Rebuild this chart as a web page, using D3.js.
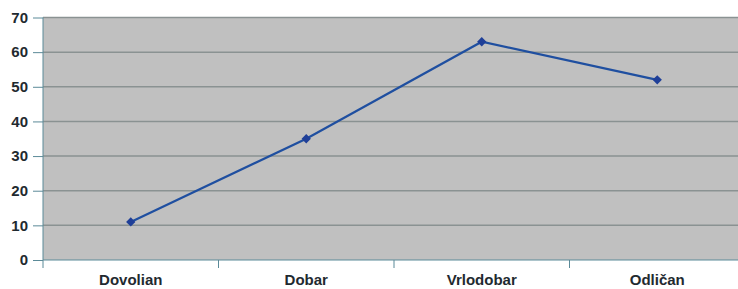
<!DOCTYPE html>
<html lang="hr">
    <head>
        <meta charset="utf-8">
        <title>Line</title>
        <script src="https://d3js.org/d3.v7.min.js"></script>
        <style type="text/css">
            body { margin: 0; background: #fff; }
            .axis path, .axis line { stroke: #5b8a98; }
            .axis text {
                font-family: "Liberation Sans", Arial, sans-serif;
                font-size: 15px;
                font-weight: bold;
                fill: #1f2a30;
            }
            .grid line { stroke: #8a9292; stroke-width: 1.5px; }
            .line { fill: none; stroke: #1f4fa0; stroke-width: 2.2px; }
        </style>
    </head>
    <body>
        <script type="text/javascript">
            const categories = ["Dovolian", "Dobar", "Vrlodobar", "Odličan"];
            const values = [11, 35, 63, 52];
            const yTicks = [0, 10, 20, 30, 40, 50, 60, 70];

            const w = 738, h = 289;
            const plotLeft = 43, plotRight = 745, plotTop = 17.5, plotBottom = 260;

            const svg = d3.select("body").append("svg").attr("width", w).attr("height", h);

            const xScale = d3.scaleBand().domain(categories).range([plotLeft, plotRight]);
            const yScale = d3.scaleLinear().domain([0, 70]).range([plotBottom, plotTop]);

            svg.append("rect")
                .attr("x", plotLeft).attr("y", plotTop)
                .attr("width", plotRight - plotLeft).attr("height", plotBottom - plotTop)
                .attr("fill", "#c0c0c0");

            // gridlines
            svg.append("g").attr("class", "grid")
                .selectAll("line").data(yTicks.filter(d => d > 0)).enter().append("line")
                .attr("x1", plotLeft).attr("x2", plotRight)
                .attr("y1", d => yScale(d)).attr("y2", d => yScale(d));

            const leftAxis = d3.axisLeft(yScale).tickValues(yTicks).tickSize(10).tickPadding(5);
            svg.append("g").attr("class", "axis")
                .attr("transform", "translate(" + plotLeft + ",0)")
                .call(leftAxis)
                .call(g => g.select(".domain").attr("d", `M0,${plotTop}V${plotBottom + 8}`));

            const bottomAxis = d3.axisBottom(xScale).tickSize(0).tickPadding(14);
            const xg = svg.append("g").attr("class", "axis")
                .attr("transform", "translate(0," + plotBottom + ")")
                .call(bottomAxis);
            xg.select(".domain").attr("d", `M${plotLeft},0H${plotRight}`);
            // boundary tick marks
            xg.selectAll(".bt").data(categories.slice(1)).enter().append("line")
                .attr("class", "bt")
                .attr("x1", d => xScale(d)).attr("x2", d => xScale(d))
                .attr("y1", 0).attr("y2", 8);

            const cx = d => xScale(d) + xScale.bandwidth() / 2;
            const line = d3.line().x((d, i) => cx(categories[i])).y(d => yScale(d));
            svg.append("path").datum(values).attr("class", "line").attr("d", line);

            svg.selectAll(".pt").data(values).enter().append("path")
                .attr("class", "pt")
                .attr("transform", (d, i) => `translate(${cx(categories[i])},${yScale(d)})`)
                .attr("d", d3.symbol().type(d3.symbolDiamond2).size(55))
                .attr("fill", "#1f3f98");
        </script>
    </body>
</html>
